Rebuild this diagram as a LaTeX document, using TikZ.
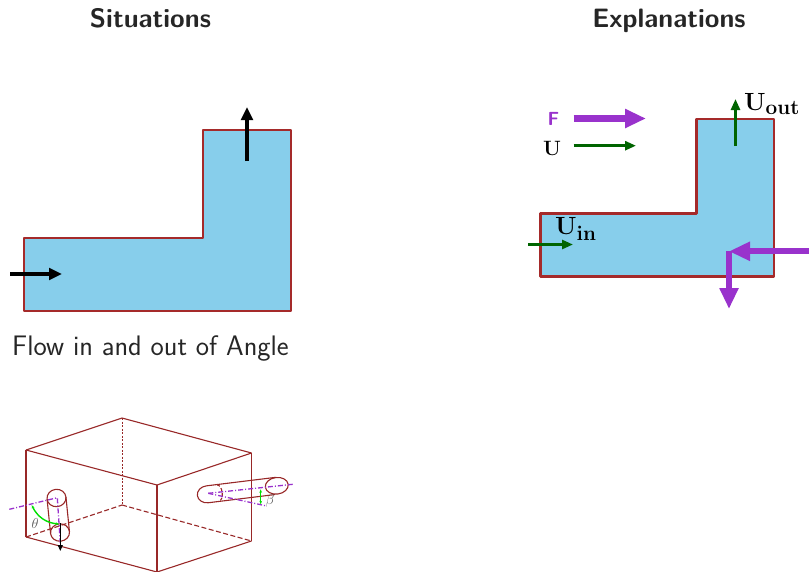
\documentclass[tikz,border=0pt]{standalone}
\usepackage{amsmath}
\usetikzlibrary{arrows.meta}

\definecolor{ductblue}{HTML}{87CEEB}
\definecolor{ductred}{HTML}{A52A2A}
\definecolor{boxred}{HTML}{982828}
\definecolor{forcepurple}{HTML}{9932CC}
\definecolor{flowgreen}{HTML}{006400}
\definecolor{anglegreen}{HTML}{00E000}

\begin{document}
\begin{tikzpicture}[
    x=1pt, y=1pt,
    font=\sffamily,
    heading/.style={font=\fontsize{26.6}{30}\sffamily\bfseries\selectfont, text=black!85, inner sep=0pt, anchor=base},
    caption/.style={font=\fontsize{28.2}{32}\sffamily\selectfont, text=black!85, inner sep=0pt, anchor=base},
    duct/.style={draw=ductred, line width=2.4pt, fill=ductblue, line join=round},
    plainflow/.style={-{Triangle[length=13pt, width=11.5pt]}, line width=3.2pt, draw=black},
    velocity/.style={-{Triangle[length=11pt, width=9pt]}, line width=2.6pt, draw=flowgreen},
    force/.style={-{Triangle[length=21pt, width=18pt]}, line width=6.2pt, draw=forcepurple},
    boxedge/.style={draw=boxred, line width=1.1pt},
    hiddenedge/.style={boxedge, dash pattern=on 5pt off 2.5pt},
    backedge/.style={boxedge, line width=0.9pt, dash pattern=on 2pt off 1.5pt},
    tube/.style={draw=boxred, line width=1.1pt},
    axisline/.style={draw=forcepurple, line width=1.3pt, dash pattern=on 5pt off 2pt on 1pt off 2pt},
    anglemark/.style={{Stealth[length=3.5pt]}-{Stealth[length=3.5pt]}, draw=anglegreen, line width=1.4pt},
    anglelabel/.style={font=\fontsize{15}{17}\selectfont, text=black!65, inner sep=0pt},
]

\useasboundingbox (0,0) rectangle (809,-571);

\node[heading] (titleL) at (150.5,-27) {Situations};
\node[heading] (titleR) at (669,-27) {Explanations};
\node[caption] (captionL) at (150.5,-355) {Flow in and out of Angle};

% left duct
\draw[duct] (24,-311) -- (291,-311) -- (291,-130) -- (203,-130) -- (203,-238) -- (24,-238) -- cycle;

\coordinate (inA) at (10,-274);
\coordinate (inB) at (62,-274);
\coordinate (outA) at (247,-161);
\coordinate (outB) at (247,-107);
\draw[plainflow] (inA) -- (inB);
\draw[plainflow] (outA) -- (outB);

% right duct
\draw[duct] (540.5,-276.5) -- (773.7,-276.5) -- (773.7,-118.7) -- (696.5,-118.7) -- (696.5,-213.3) -- (540.5,-213.3) -- cycle;

\node[inner sep=0pt, text=forcepurple, font=\fontsize{19}{21}\sffamily\bfseries\selectfont] (legF) at (553.5,-118.5) {F};
\node[inner sep=0pt, font=\fontsize{20}{22}\selectfont] (legU) at (552,-148.5) {$\mathbf{U}$};
\coordinate (legFA) at (573.5,-118.5);
\coordinate (legFB) at (646,-118.5);
\coordinate (legUA) at (573.5,-145.7);
\coordinate (legUB) at (636,-145.7);
\draw[force] (legFA) -- (legFB);
\draw[velocity] (legUA) -- (legUB);

\coordinate (uinA) at (528,-244.5);
\coordinate (uinB) at (573,-244.5);
\coordinate (uoutA) at (735.5,-146);
\coordinate (uoutB) at (735.5,-99);
\draw[velocity] (uinA) -- (uinB);
\draw[velocity] (uoutA) -- (uoutB);
\node[inner sep=0pt, anchor=west, font=\fontsize{27.7}{30}\selectfont] (uin) at (555,-229) {$\mathbf{U_{in}}$};
\node[inner sep=0pt, anchor=west, font=\fontsize{29}{32}\selectfont] (uout) at (744,-104) {$\mathbf{U_{out}}$};

\coordinate (fxA) at (809,-251.3);
\coordinate (fxB) at (729,-251.3);
\coordinate (fyB) at (729,-309);
\draw[force] (fxA) -- (fxB);
\draw[force] (fxB) -- (fyB);

% box
\coordinate (topL) at (26,-450);
\coordinate (topB) at (122,-418);
\coordinate (topR) at (251.5,-453);
\coordinate (topF) at (157,-485);
\coordinate (botL) at (26,-537);
\coordinate (botB) at (122,-505);
\coordinate (botR) at (251.5,-541);
\coordinate (botF) at (157,-572);

\foreach \a/\b in {topL/topB, topB/topR, topR/topF, topF/topL, topL/botL, topF/botF, topR/botR, botL/botF, botF/botR}
    \draw[boxedge] (\a) -- (\b);
\foreach \a/\b in {botL/botB, botB/botR}
    \draw[hiddenedge] (\a) -- (\b);
\draw[backedge] (topB) -- (botB);

% outlet tube on the front face
\begin{scope}[shift={(56.5,-498)}, rotate=5.8]
    \draw[tube] (-9.5,0) arc[start angle=180, end angle=0, x radius=9.5, y radius=8.7] -- (9.5,-34.7);
    \draw[tube] (-9.5,0) -- (-9.5,-34.7);
    \draw[tube] (-9.5,0) arc[start angle=180, end angle=360, x radius=9.5, y radius=8.7];
    \draw[tube] (0,-34.7) ellipse[x radius=9.5, y radius=8.7];
\end{scope}

\coordinate (thetaA) at (9.3,-509.3);
\coordinate (thetaB) at (57.3,-497.7);
\coordinate (thetaC) at (60.3,-543);
\draw[axisline] (thetaA) -- (thetaB) -- (thetaC);
\coordinate (exitA) at (60.3,-523);
\coordinate (exitB) at (60.3,-551);
\draw[-{Triangle[length=6pt, width=5pt]}, line width=1pt] (exitA) -- (exitB);
\coordinate (arcA) at (31.7,-505);
\coordinate (arcB) at (59.3,-524);
\draw[anglemark] (arcA) to[bend right=30] (arcB);
\node[anglelabel] (theta) at (35,-523) {$\theta$};

% outlet tube on the side face
\begin{scope}[shift={(207.3,-494.3)}, rotate=7]
    \draw[tube] (70,8.5) -- (0,8.5) arc[start angle=90, end angle=270, x radius=10, y radius=8.5] -- (67,-8.5);
    \draw[tube] (70,0) ellipse[x radius=11.5, y radius=8.3];
    \draw[tube, densely dashed] (11,8) arc[start angle=90, end angle=-90, x radius=4, y radius=8];
\end{scope}

\coordinate (betaO) at (208.3,-493.3);
\coordinate (betaA) at (292.7,-484.3);
\coordinate (betaB) at (266.7,-506);
\draw[axisline] (betaO) -- (betaA);
\draw[axisline] (betaO) -- (betaB);
\coordinate (markA) at (260.7,-489.3);
\coordinate (markB) at (260.7,-504.3);
\draw[anglemark] (markA) -- (markB);
\node[anglelabel] (beta) at (270,-500.7) {$\beta$};

\end{tikzpicture}
\end{document}
